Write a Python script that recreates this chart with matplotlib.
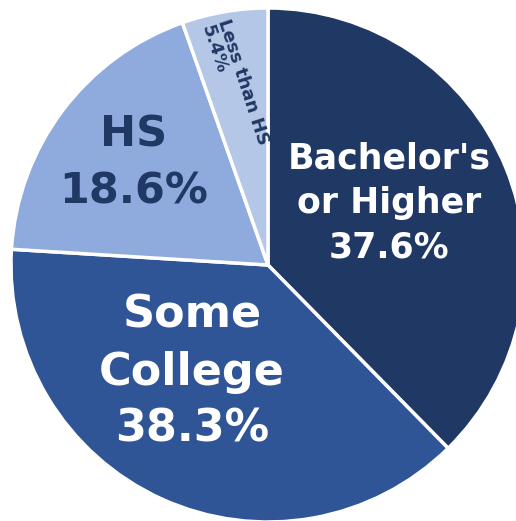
import matplotlib.pyplot as plt

labels = ["Bachelor's\nor Higher", "Some\nCollege", "HS", "Less than HS"]
shares = [37.6, 38.3, 18.6, 5.4]
colors = ["#203864", "#2F5597", "#8FAADC", "#B4C7E7"]

fig = plt.figure(figsize=(5.16, 5.21), dpi=100)
ax = fig.add_axes([0, 0, 1, 1])

R = 257.0
cx, cy = 268.0, 265.0
wedges, _ = ax.pie(shares, colors=colors, startangle=90, counterclock=False,
                   radius=1.0,
                   wedgeprops=dict(edgecolor="white", linewidth=2.5))
ax.set_xlim(-cx / R, (516 - cx) / R)
ax.set_ylim(-(521 - cy) / R, cy / R)
ax.set_aspect("equal")
ax.axis("off")

def px(x, y):
    return ((x - cx) / R, (cy - y) / R)

# slice labels
ax.text(*px(389, 203), f"{labels[0]}\n{shares[0]}%", color="white", fontsize=25,
        fontweight="bold", ha="center", va="center", linespacing=1.38)
ax.text(*px(192, 372), f"{labels[1]}\n{shares[1]}%", color="white", fontsize=32,
        fontweight="bold", ha="center", va="center", linespacing=1.42)
ax.text(*px(134, 163), f"{labels[2]}\n{shares[2]}%", color="#203864", fontsize=31,
        fontweight="bold", ha="center", va="center", linespacing=1.44)
ax.text(*px(235, 85), f"{labels[3]}\n{shares[3]}%", color="#203864", fontsize=13,
        fontweight="bold", ha="center", va="center", rotation=-72,
        rotation_mode="anchor", linespacing=1.0, multialignment="left")

fig.savefig("out.png", dpi=100)
